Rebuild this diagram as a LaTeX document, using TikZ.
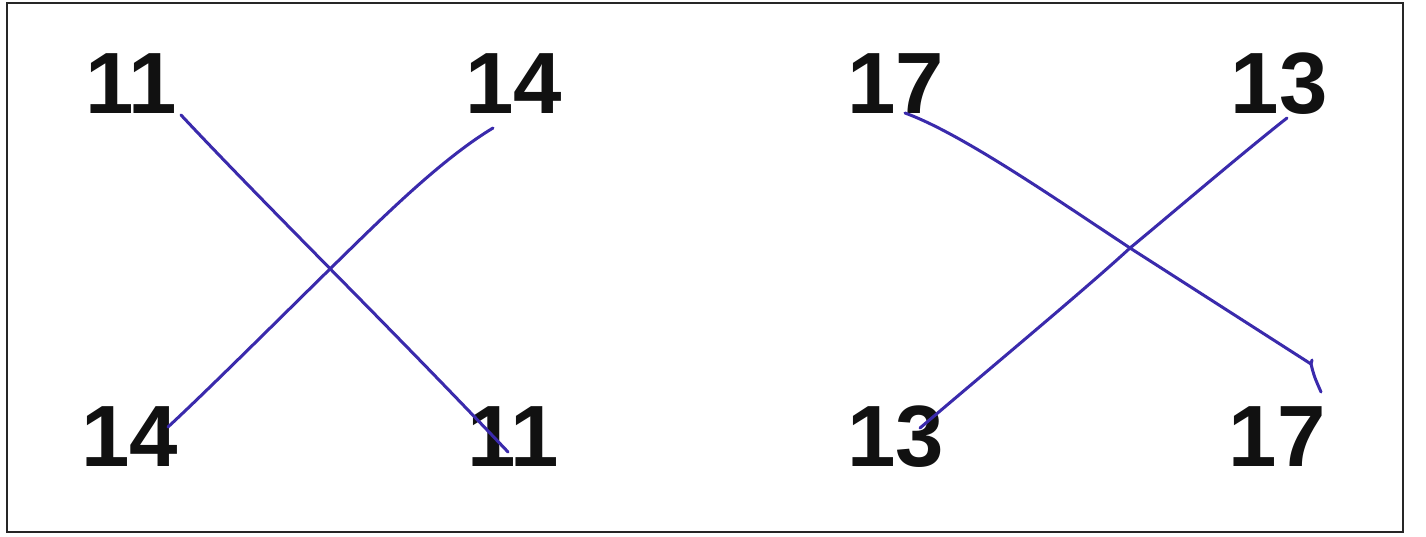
\documentclass[tikz,border=0pt]{standalone}
\usepackage{fontspec}
\setmainfont{Liberation Sans}
\usetikzlibrary{calc}
\definecolor{pen}{RGB}{58,42,172}
\definecolor{ink}{RGB}{17,17,17}
\tikzset{
  num/.style={inner sep=0pt, text=ink, font=\fontsize{87}{87}\selectfont\bfseries},
  penline/.style={draw=pen, line width=3pt, line cap=round, line join=round},
  frame/.style={draw=black!85, line width=2pt}
}
\begin{document}
\begin{tikzpicture}[x=1pt,y=-1pt]
\useasboundingbox[fill=white] (0,0) rectangle (1426,536);
\draw[frame] (7,3) rectangle (1403,532);

\node[num] (a11) at (131,84) {11};
\node[num] (a14) at (514,84) {14};
\node[num] (a17) at (896,84) {17};
\node[num] (a13) at (1279,84) {13};
\node[num] (b14) at (130,437) {14};
\node[num] (b11) at (513,437) {11};
\node[num] (b13) at (896,437) {13};
\node[num] (b17) at (1277,437) {17};

\coordinate (s1) at ($(a11)+(50,31)$);
\coordinate (e1) at ($(b11)+(-5,15)$);
\coordinate (s2) at ($(a14)+(-21,44)$);
\coordinate (e2) at ($(b14)+(38,-10)$);
\coordinate (s3) at ($(a17)+(9,29)$);
\coordinate (h3) at ($(b17)+(34,-73)$);
\coordinate (e3) at ($(b17)+(44,-45)$);
\coordinate (s4) at ($(a13)+(8,34)$);
\coordinate (e4) at ($(b13)+(24,-9)$);

\draw[penline] (s1) .. controls (270,210) and (385,322) .. (e1);
\draw[penline] (s2) .. controls (440,160) and (380,220) .. (332,267)
   .. controls (280,318) and (210,388) .. (e2);
\draw[penline] (s3) .. controls (960,133) and (1050,195) .. (1130,248)
   -- (h3) -- ($(h3)+(1,-4)$);
\draw[penline] (h3) .. controls ($(h3)+(3,12)$) .. (e3);
\draw[penline] (s4) .. controls (1240,155) and (1170,215) .. (1130,248)
   .. controls (1090,285) and (1000,360) .. (e4);
\end{tikzpicture}
\end{document}
